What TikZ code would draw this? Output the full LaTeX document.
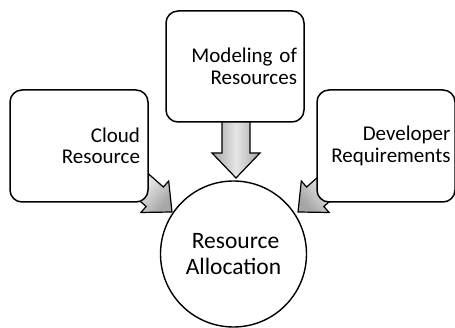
\documentclass[tikz,border=0pt]{standalone}
\usepackage{fontspec}
\setmainfont{Carlito}
\begin{document}
\begin{tikzpicture}[x=1pt,y=-1pt,
  boxstyle/.style={draw=black, line width=1.5pt, rounded corners=12pt, fill=white,
    minimum width=138pt, text width=#1, align=right, inner xsep=0pt,
    font=\fontsize{21}{21.5}\selectfont},
  circstyle/.style={draw=black, line width=1.4pt, circle, fill=white, minimum size=146pt,
    align=center, inner sep=0pt, font=\fontsize{23.5}{26}\selectfont},
  blockarrow/.style={draw=black, line width=1.2pt, line join=miter}
]
\useasboundingbox (0,0) rectangle (455,328);

% arrows (drawn first, behind the boxes)
\begin{scope}[shift={(236,178)}, rotate=-90]
  \path[blockarrow, left color=gray!70, right color=gray!70, middle color=gray!20, shading angle=90]
    (0pt,0pt) -- (-25pt,24pt) -- (-25pt,14pt) -- (-62pt,14pt) -- (-62pt,-14pt)
    -- (-25pt,-14pt) -- (-25pt,-24pt) -- cycle;
\end{scope}
\begin{scope}[shift={(172,212)}, rotate=-41.5]
  \path[blockarrow, left color=gray!70, right color=gray!70, middle color=gray!20, shading angle=48.5]
    (0pt,0pt) -- (-23pt,21pt) -- (-23pt,13pt) -- (-62pt,13pt) -- (-62pt,-13pt)
    -- (-23pt,-13pt) -- (-23pt,-21pt) -- cycle;
\end{scope}
\begin{scope}[shift={(298,212)}, rotate=-138.5]
  \path[blockarrow, left color=gray!70, right color=gray!70, middle color=gray!20, shading angle=-48.5]
    (0pt,0pt) -- (-23pt,21pt) -- (-23pt,13pt) -- (-62pt,13pt) -- (-62pt,-13pt)
    -- (-23pt,-13pt) -- (-23pt,-21pt) -- cycle;
\end{scope}

% boxes
\node[boxstyle=122pt, minimum height=112pt] (cloud) at (79,146) {Cloud\\Resource};
\node[boxstyle=124pt, minimum height=111pt] (model) at (235,66.5) {Modeling of\\Resources};
\node[boxstyle=129pt, minimum height=112pt] (dev) at (386,146) {Developer\\Requirements};

% circle
\node[circstyle] (alloc) at (233.5,254) {\hspace*{4pt}Resource\\Allocation};
\end{tikzpicture}
\end{document}
